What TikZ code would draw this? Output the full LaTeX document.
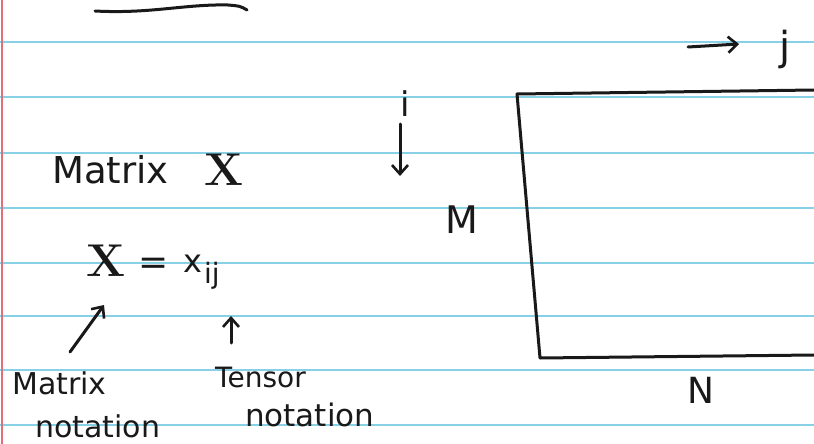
\documentclass[tikz,border=0pt]{standalone}
\usepackage{fontspec}
\newfontfamily\hand{DejaVu Sans}
\usetikzlibrary{arrows.meta}
\definecolor{ruleblue}{RGB}{135,208,230}
\definecolor{marginred}{RGB}{225,110,120}
\definecolor{ink}{RGB}{25,25,25}
\tikzset{
  pen/.style={draw=ink, line width=3pt, line cap=round, line join=round},
  penarrow/.style={pen, -{Straight Barb[length=9pt,width=16pt,line width=2.6pt]}},
  hw/.style={inner sep=0pt, text=ink, font=\hand},
  bigx/.style={inner sep=0pt, text=ink},
  rule/.style={draw=ruleblue, line width=2.4pt}
}
\begin{document}
\begin{tikzpicture}[x=1pt,y=-1pt]
\useasboundingbox (0,0) rectangle (814,444);
\fill[white] (0,0) rectangle (814,444);
% ruled lines
\foreach \yy in {42,97,153,208,263,316,370,425}
  \draw[rule] (0,\yy) -- (814,\yy);
\draw[draw=marginred, line width=2.4pt] (2,0) -- (2,444);
% top stroke
\draw[pen] (95,11) .. controls (150,14) and (185,4) .. (228,5) .. controls (240,6) .. (247,10);
% Matrix X title
\node[hw, anchor=base west, font=\hand\fontsize{37}{40}\selectfont] (title) at (52,183) {Matrix};
\node[bigx, anchor=base, font=\bfseries\fontsize{46}{50}\selectfont] (titleX) at (224,185) {X};
% X = x_ij
\node[bigx, anchor=base, font=\bfseries\fontsize{46}{50}\selectfont] (X) at (106,276) {X};
\node[hw, anchor=base, font=\hand\fontsize{36}{38}\selectfont] (eq) at (154,274) {=};
\node[hw, anchor=base, font=\hand\fontsize{32}{34}\selectfont] (xx) at (193,272) {x};
\node[hw, anchor=base west, font=\hand\fontsize{28}{30}\selectfont] (ij) at (204,283) {ij};
% labels below
\node[hw, anchor=base west, font=\hand\fontsize{30}{32}\selectfont] (mlab) at (12,394) {Matrix};
\node[hw, anchor=base west, font=\hand\fontsize{30}{32}\selectfont] (mlab2) at (35,437) {notation};
\node[hw, anchor=base west, font=\hand\fontsize{28}{30}\selectfont] (tlab) at (215,387) {Tensor};
\node[hw, anchor=base west, font=\hand\fontsize{31}{33}\selectfont] (tlab2) at (245,426) {notation};
% notation arrows
\coordinate (ma0) at (70,352);
\coordinate (ma1) at (104,305);
\draw[penarrow] (ma0) -- (ma1);
\coordinate (ta0) at (231,343);
\coordinate (ta1) at (231,316);
\draw[penarrow] (ta0) -- (ta1);
% index arrows
\node[hw, anchor=base, font=\hand\fontsize{34}{36}\selectfont] (ilab) at (405,117) {i};
\coordinate (ia0) at (400,124);
\coordinate (ia1) at (400,176);
\draw[penarrow] (ia0) -- (ia1);
\node[hw, anchor=base, font=\hand\fontsize{40}{42}\selectfont] (jlab) at (785,60) {j};
\coordinate (ja0) at (688,47);
\coordinate (ja1) at (739,44);
\draw[penarrow] (ja0) -- (ja1);
% dimensions
\node[hw, anchor=base, font=\hand\fontsize{38}{40}\selectfont] (Mlab) at (462,233) {M};
\node[hw, anchor=base, font=\hand\fontsize{36}{38}\selectfont] (Nlab) at (701,403) {N};
% matrix rectangle
\coordinate (tr) at (814,90);
\coordinate (tl) at (517,94);
\coordinate (bl) at (540,358);
\coordinate (br) at (814,355);
\draw[pen] (tr) -- (tl) -- (bl) -- (br);
\end{tikzpicture}
\end{document}
